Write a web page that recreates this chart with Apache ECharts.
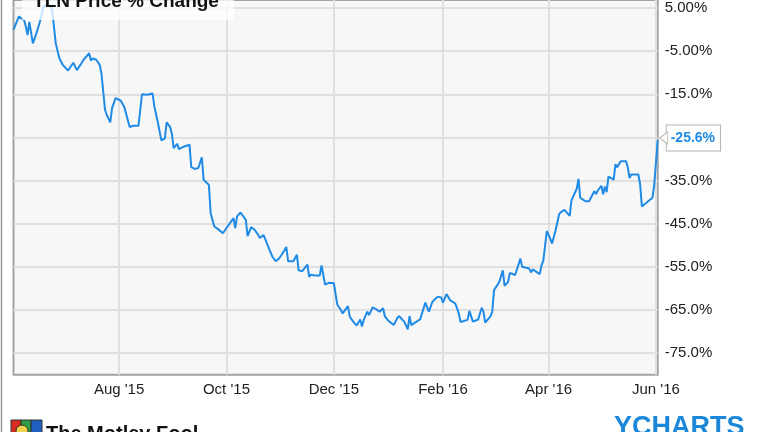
<!DOCTYPE html>
<html>
<head>
<meta charset="utf-8">
<script src="https://cdn.jsdelivr.net/npm/echarts@6/dist/echarts.min.js"></script>
<style>
html,body{margin:0;padding:0;background:#fff;}
#chart{width:764px;height:432px;}
</style>
</head>
<body>
<div id="chart"></div>
<script>
// ---- data ----
const dates = [
'2015-06-02','2015-06-05','2015-06-08','2015-06-09','2015-06-10','2015-06-11','2015-06-13','2015-06-15','2015-06-17','2015-06-18',
'2015-06-19','2015-06-21','2015-06-23','2015-06-24','2015-06-26','2015-06-28','2015-06-30','2015-07-01','2015-07-03','2015-07-06',
'2015-07-08','2015-07-10','2015-07-12','2015-07-15','2015-07-16','2015-07-17','2015-07-19','2015-07-21','2015-07-22','2015-07-24',
'2015-07-25','2015-07-27','2015-07-28','2015-07-30','2015-08-02','2015-08-04','2015-08-05','2015-08-07','2015-08-09','2015-08-12',
'2015-08-14','2015-08-17','2015-08-18','2015-08-20','2015-08-21','2015-08-23','2015-08-25','2015-08-27','2015-08-28','2015-08-30',
'2015-08-31','2015-09-01','2015-09-03','2015-09-04','2015-09-07','2015-09-08','2015-09-10','2015-09-11','2015-09-13','2015-09-15',
'2015-09-17','2015-09-18','2015-09-21','2015-09-22','2015-09-24','2015-09-26','2015-09-29','2015-10-01','2015-10-05','2015-10-06',
'2015-10-07','2015-10-09','2015-10-12','2015-10-13','2015-10-15','2015-10-17','2015-10-19','2015-10-20','2015-10-22','2015-10-23',
'2015-10-27','2015-10-29','2015-10-31','2015-11-02','2015-11-04','2015-11-05','2015-11-06','2015-11-08','2015-11-10','2015-11-11',
'2015-11-13','2015-11-16','2015-11-17','2015-11-18','2015-11-20','2015-11-21','2015-11-23','2015-11-24','2015-11-26','2015-11-28',
'2015-11-29','2015-12-01','2015-12-03','2015-12-05','2015-12-06','2015-12-09','2015-12-10','2015-12-12','2015-12-14','2015-12-16',
'2015-12-17','2015-12-18','2015-12-20','2015-12-21','2015-12-23','2015-12-25','2015-12-27','2015-12-29','2015-12-30','2016-01-01',
'2016-01-04','2016-01-06','2016-01-07','2016-01-10','2016-01-11','2016-01-12','2016-01-13','2016-01-14','2016-01-17','2016-01-19',
'2016-01-20','2016-01-22','2016-01-24','2016-01-26','2016-01-27','2016-01-29','2016-01-31','2016-02-01','2016-02-03','2016-02-05',
'2016-02-08','2016-02-10','2016-02-11','2016-02-15','2016-02-16','2016-02-18','2016-02-21','2016-02-23','2016-02-24','2016-02-25',
'2016-02-28','2016-02-29','2016-03-01','2016-03-04','2016-03-06','2016-03-07','2016-03-09','2016-03-10','2016-03-13','2016-03-14',
'2016-03-16','2016-03-17','2016-03-21','2016-03-22','2016-03-23','2016-03-24','2016-03-27','2016-03-28','2016-03-29','2016-03-31',
'2016-04-02','2016-04-03','2016-04-05','2016-04-07','2016-04-08','2016-04-10','2016-04-13','2016-04-14','2016-04-17','2016-04-18',
'2016-04-19','2016-04-22','2016-04-24','2016-04-27','2016-04-28','2016-04-29','2016-05-01','2016-05-02','2016-05-03','2016-05-04',
'2016-05-05','2016-05-08','2016-05-09','2016-05-10','2016-05-12','2016-05-15','2016-05-16','2016-05-17','2016-05-18','2016-05-22',
'2016-05-23','2016-05-24','2016-05-25','2016-05-30','2016-05-31','2016-06-01','2016-06-02'
];
const pctChange = [
0.0,3.0,2.2,0.7,-1.3,1.8,-3.2,-0.9,1.8,1.5,
5.3,5.8,5.6,4.5,-3.2,-6.6,-8.2,-8.3,-9.5,-7.7,
-9.4,-8.2,-6.9,-5.5,-7.2,-6.7,-7.0,-8.2,-10.3,-18.6,
-19.8,-21.5,-18.2,-15.9,-16.5,-18.0,-18.2,-22.6,-22.3,-22.3,
-15.0,-15.1,-15.5,-14.8,-17.8,-21.5,-25.7,-25.2,-21.5,-22.6,
-24.2,-27.5,-26.5,-27.7,-27.1,-26.9,-26.7,-31.9,-32.3,-32.1,
-29.6,-34.8,-36.0,-42.5,-45.6,-46.2,-47.2,-46.0,-43.7,-46.0,
-43.3,-42.4,-44.1,-47.9,-45.8,-46.4,-47.6,-48.3,-47.6,-48.6,
-52.6,-53.7,-53.0,-51.8,-50.4,-53.7,-53.3,-53.7,-52.2,-55.8,
-56.0,-54.5,-57.3,-56.8,-57.0,-56.8,-57.0,-54.7,-59.1,-58.7,
-58.5,-58.8,-63.8,-65.0,-65.8,-64.1,-66.5,-67.7,-68.6,-67.2,
-68.8,-67.3,-65.4,-66.2,-64.4,-64.8,-65.4,-64.6,-66.5,-67.5,
-68.5,-66.9,-66.4,-67.7,-68.1,-69.5,-66.4,-68.5,-67.7,-67.2,
-67.2,-63.3,-65.4,-63.1,-63.5,-61.9,-62.1,-63.3,-61.3,-62.7,
-63.5,-65.8,-67.8,-67.3,-65.2,-67.7,-67.2,-64.5,-65.4,-67.9,
-66.5,-65.4,-60.4,-58.5,-55.8,-59.4,-58.5,-56.4,-56.9,-56.5,
-53.1,-55.0,-55.4,-56.3,-55.6,-56.0,-56.7,-54.6,-53.6,-46.7,
-48.5,-49.6,-46.5,-42.8,-42.3,-41.8,-43.2,-39.6,-36.9,-34.6,
-39.0,-39.8,-39.8,-37.5,-38.1,-37.3,-36.2,-38.2,-36.4,-37.7,
-34.1,-34.8,-31.2,-31.9,-30.5,-30.5,-31.9,-34.4,-33.6,-33.6,
-35.8,-41.0,-41.0,-39.0,-36.2,-36.5,-25.6
];
const yTickValues = [5, -5, -15, -25, -35, -45, -55, -65, -75];
const yTickLabels = ['5.00%', '-5.00%', '-15.0%', '-25.0%', '-35.0%', '-45.0%', '-55.0%', '-65.0%', '-75.0%'];
const xTickDates = ['2015-08-01', '2015-10-01', '2015-12-01', '2016-02-01', '2016-04-01', '2016-06-01'];
const xTickLabels = ["Aug '15", "Oct '15", "Dec '15", "Feb '16", "Apr '16", "Jun '16"];
const xMin = '2015-06-02';
const xMax = '2016-06-02';
const titleText = 'TLN Price % Change';

// ---- build ----
const ts = s => new Date(s + 'T00:00:00Z').getTime();
const seriesData = dates.map((d, i) => [ts(d), pctChange[i]]);
const xTickTs = xTickDates.map(ts);
const last = seriesData[seriesData.length - 1];

const gridLines = [];
yTickValues.forEach(v => gridLines.push({ yAxis: v }));
xTickTs.forEach(t => gridLines.push({ xAxis: t }));

const chart = echarts.init(document.getElementById('chart'), null, { renderer: 'canvas' });
chart.setOption({
  animation: false,
  backgroundColor: '#ffffff',
  grid: {
    left: 13.5, right: 106.3, top: 0, bottom: 57.3,
    show: true, backgroundColor: '#f7f7f7', borderColor: '#a3a3a3', borderWidth: 2
  },
  xAxis: {
    type: 'value',
    min: ts(xMin), max: ts(xMax),
    axisLine: { show: false },
    axisTick: { show: false },
    splitLine: { show: false },
    axisLabel: {
      customValues: xTickTs,
      margin: 8,
      fontFamily: 'Liberation Sans, Arial, sans-serif',
      fontSize: 15, color: '#222',
      formatter: v => { const i = xTickTs.indexOf(v); return i >= 0 ? xTickLabels[i] : ''; }
    }
  },
  yAxis: {
    type: 'value',
    position: 'right',
    min: -80, max: 6.85,
    axisLine: { show: false },
    axisTick: { show: false },
    splitLine: { show: false },
    axisLabel: {
      customValues: yTickValues,
      margin: 7,
      fontFamily: 'Liberation Sans, Arial, sans-serif',
      fontSize: 15, color: '#222',
      formatter: v => { const i = yTickValues.indexOf(v); return i >= 0 ? yTickLabels[i] : ''; }
    }
  },
  series: [{
    type: 'line',
    data: seriesData,
    showSymbol: false,
    lineStyle: { color: '#1f8be6', width: 2 },
    itemStyle: { color: '#1f8be6' },
    z: 3,
    markLine: {
      silent: true,
      symbol: 'none',
      label: { show: false },
      lineStyle: { color: '#e0e0e0', width: 2, type: 'solid' },
      data: gridLines,
      z: 1
    },
    markPoint: {
      silent: true,
      symbol: 'path://M0,6 L8,0 L8,12 Z',
      symbolSize: [8, 12],
      symbolOffset: [6, -2],
      label: { show: false },
      itemStyle: { color: '#ffffff', borderColor: '#b5b5b5', borderWidth: 1 },
      data: [{ coord: last }],
      z: 20
    },
    endLabel: {
      show: true,
      formatter: p => p.value[1].toFixed(1) + '%',
      color: '#1f8be6',
      fontWeight: 'bold',
      fontSize: 14,
      fontFamily: 'Liberation Sans, Arial, sans-serif',
      backgroundColor: '#ffffff',
      borderColor: '#b5b5b5',
      borderWidth: 1,
      padding: [6, 5, 5, 4],
      distance: 9,
      offset: [0, -2]
    }
  }],
  graphic: [
    { type: 'rect', shape: { x: 22, y: -5, width: 212, height: 25 }, style: { fill: 'rgba(255,255,255,0.75)' }, z: 100 },
    { type: 'text', x: 126, y: 11, z: 101, style: { text: titleText, font: 'bold 19px "Liberation Sans", Arial, sans-serif', fill: '#111', textAlign: 'center', textVerticalAlign: 'bottom' } },
    { type: 'line', shape: { x1: 1.5, y1: 0, x2: 1.5, y2: 432 }, style: { stroke: '#999', lineWidth: 1.5 }, z: 100 },
    { type: 'rect', shape: { x: 11, y: 420, width: 10, height: 14 }, style: { fill: '#d62d20', stroke: '#333', lineWidth: 1 }, z: 100 },
    { type: 'rect', shape: { x: 21, y: 420, width: 10, height: 14 }, style: { fill: '#2f9e44', stroke: '#333', lineWidth: 1 }, z: 100 },
    { type: 'rect', shape: { x: 31, y: 420, width: 11, height: 14 }, style: { fill: '#1f5fbf', stroke: '#333', lineWidth: 1 }, z: 100 },
    { type: 'circle', shape: { cx: 22, cy: 431, r: 6 }, style: { fill: '#f2d24b', stroke: '#333', lineWidth: 1 }, z: 101 },
    { type: 'text', x: 46, y: 424, z: 101, style: { text: 'The Motley Fool', font: 'bold 20px "Liberation Sans", Arial, sans-serif', fill: '#111', textVerticalAlign: 'top' } },
    { type: 'text', x: 614, y: 414, z: 101, style: { text: 'YCHARTS', font: 'bold 27px "Liberation Sans", Arial, sans-serif', fill: '#1a87d8', textVerticalAlign: 'top' } }
  ]
});
</script>
</body>
</html>
